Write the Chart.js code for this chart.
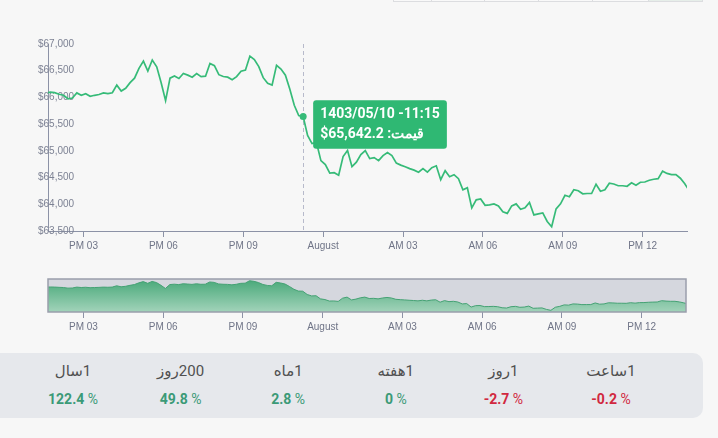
<!DOCTYPE html>
<html>
<head>
<meta charset="utf-8">
<script src="https://cdn.jsdelivr.net/npm/chart.js@4.4.1/dist/chart.umd.min.js"></script>
<style>
html, body { margin: 0; padding: 0; background: #f7f7f7; width: 718px; height: 438px; overflow: hidden; font-family: Roboto, "DejaVu Sans", sans-serif; }
#main { position: absolute; left: 0; top: 0; }
#nav { position: absolute; left: 0; top: 262px; }
.range { position: absolute; top: -30px; height: 32px; border: 1px solid #dcdde0; box-sizing: border-box; background: #f9f9f9; }
.range.on { background: #e6eee9; }
#stats { position: absolute; left: -12px; top: 353px; width: 715px; height: 65px; background: #e6e8ec; border-radius: 10px; }
.cell { position: absolute; width: 108px; text-align: center; }
.lbl { top: 360px; font-size: 15px; color: #505050; line-height: 22px; }
.val { top: 389px; font-size: 14px; font-weight: bold; line-height: 20px; }
.val span { font-weight: normal; }
</style>
</head>
<body>
<canvas id="main" width="718" height="258"></canvas>
<canvas id="nav" width="718" height="80"></canvas>
<div id="stats"></div>
<script>
// price every 10 minutes, starting 13:35 (minutes counted from midnight of 1403/05/10)
const startMinute = 815;
const stepMinutes = 10;
const prices = [
	66080, 66100, 66090, 66060, 66040, 65975, 65990, 66085, 66040, 66070,
	66022, 66040, 66055, 66084, 66070, 66087, 66230, 66120, 66172, 66276,
	66360, 66543, 66680, 66492, 66700, 66573, 66276, 65940, 66360, 66400,
	66355, 66449, 66417, 66379, 66445, 66389, 66398, 66637, 66595, 66426,
	66392, 66379, 66332, 66389, 66492, 66511, 66774, 66708, 66577, 66370,
	66266, 66230, 66600, 66530, 66417, 66153, 65852, 65660, 65642.2, 65288,
	65137, 65156, 64817, 64742, 64582, 64592, 64544, 64893, 65006, 64704,
	64789, 64930, 65005, 64855, 64874, 64817, 64911, 64968, 64911, 64770,
	64733, 64704, 64667, 64639, 64601, 64667, 64601, 64686, 64720, 64460,
	64629, 64516, 64554, 64479, 64272, 64309, 63933, 64083, 64100, 63980,
	63989, 64008, 63970, 63858, 63829, 63970, 64008, 63908, 63933, 64036,
	63801, 63820, 63839, 63679, 63580, 63914, 64008, 64168, 64140, 64272,
	64253, 64196, 64202, 64202, 64375, 64243, 64272, 64394, 64379, 64347,
	64347, 64337, 64403, 64356, 64413, 64417, 64450, 64469, 64479, 64620,
	64578, 64554, 64554, 64488, 64385, 64253
];
const xTickMinutes = [900, 1080, 1260, 1440, 1620, 1800, 1980, 2160];
const xTickLabels = ["PM 03", "PM 06", "PM 09", "August", "AM 03", "AM 06", "AM 09", "PM 12"];
const dayLabels = ["1403/05/10", "1403/05/11"];
const hoverIndex = 58;

const periods = ["1سال", "200روز", "1ماه", "1هفته", "1روز", "1ساعت"];
const changes = [122.4, 49.8, 2.8, 0, -2.7, -0.2];

const rangeEdges = [393, 431, 484, 538, 592, 648, 702];

const green = "#36bb78";
const axisColor = "#8c92a6";
const tickFont = {family: "Liberation Sans", size: 10};

const points = prices.map((p, i) => ({x: startMinute + i * stepMinutes, y: p}));

function pad(n) { return (n < 10 ? "0" : "") + n; }

function xScaleOptions() {
	return {
		type: "linear",
		min: 820,
		max: 2260,
		afterBuildTicks: s => { s.ticks = xTickMinutes.map(v => ({value: v})); },
		ticks: {
			autoSkip: false, maxRotation: 0, padding: 3, color: "#6f7487", font: tickFont,
			callback: v => xTickLabels[xTickMinutes.indexOf(v)]
		},
		grid: {display: true, drawOnChartArea: false, tickLength: 6, color: axisColor}
	};
}

Chart.Tooltip.positioners.shifted = function(elements) {
	if (!elements.length) return false;
	const el = elements[0].element;
	return {x: el.x, y: el.y + 8};
};

const crosshair = {
	id: "crosshair",
	beforeDatasetsDraw(chart) {
		const act = chart.getActiveElements();
		if (!act.length) return;
		const x = Math.round(act[0].element.x) + 0.5;
		const ctx = chart.ctx;
		ctx.save();
		ctx.setLineDash([4, 3]);
		ctx.strokeStyle = "#b7bacb";
		ctx.lineWidth = 1;
		ctx.beginPath();
		ctx.moveTo(x, chart.chartArea.top);
		ctx.lineTo(x, chart.chartArea.bottom);
		ctx.stroke();
		ctx.restore();
	}
};

let xMain = xScaleOptions();
xMain.border = {display: true, color: axisColor, width: 1};

const mainChart = new Chart(document.getElementById("main"), {
	type: "line",
	data: {
		datasets: [{
			data: points,
			borderColor: green,
			borderWidth: 1.7,
			pointRadius: 0,
			pointHoverRadius: 3.5,
			pointHoverBorderWidth: 0,
			pointHoverBackgroundColor: green,
			tension: 0
		}]
	},
	options: {
		responsive: false,
		animation: false,
		events: [],
		layout: {padding: {top: 44, left: 48, right: 31, bottom: 3}},
		scales: {
			x: xMain,
			y: {
				min: 63500,
				max: 67000,
				afterFit: s => { s.width = 0; },
				ticks: {
					stepSize: 500, mirror: true, padding: -10, color: "#7d8294", font: tickFont,
					callback: v => "$" + v.toLocaleString("en-US")
				},
				grid: {display: false, drawTicks: false, tickLength: 0},
				border: {display: true, color: axisColor, width: 1}
			}
		},
		plugins: {
			legend: {display: false},
			tooltip: {
				position: "shifted",
				rtl: true,
				textDirection: "rtl",
				xAlign: "left",
				yAlign: "center",
				caretSize: 0,
				caretPadding: 10,
				backgroundColor: "#2fb873",
				cornerRadius: 3,
				padding: {x: 7, y: 6},
				titleMarginBottom: 3,
				displayColors: false,
				titleColor: "#fff",
				bodyColor: "#fff",
				titleFont: {family: "Roboto", size: 14, weight: "bold"},
				bodyFont: {family: "Roboto", size: 14, weight: "bold"},
				callbacks: {
					title: items => {
						const t = items[0].parsed.x;
						const day = t >= 1440 ? 1 : 0;
						const m = t % 1440;
						const h = Math.floor(m / 60) % 12 || 12;
						return pad(h) + ":" + pad(m % 60) + "- " + dayLabels[day];
					},
					label: item => "قیمت: \u202A$" + item.parsed.y.toLocaleString("en-US", {minimumFractionDigits: 1, maximumFractionDigits: 1}) + "\u202C"
				}
			}
		}
	},
	plugins: [crosshair]
});

const active = [{datasetIndex: 0, index: hoverIndex}];
mainChart.setActiveElements(active);
mainChart.tooltip.setActiveElements(active, {x: 0, y: 0});
mainChart.update();

// navigator
const navBox = {
	id: "navBox",
	beforeDatasetsDraw(chart) {
		const a = chart.chartArea;
		chart.ctx.save();
		chart.ctx.fillStyle = "#d5d7de";
		chart.ctx.fillRect(a.left, a.top, a.right - a.left, a.bottom - a.top);
		chart.ctx.restore();
	},
	afterDatasetsDraw(chart) {
		const a = chart.chartArea;
		chart.ctx.save();
		chart.ctx.strokeStyle = "#9a9eac";
		chart.ctx.lineWidth = 1.5;
		chart.ctx.strokeRect(a.left, a.top, a.right - a.left, a.bottom - a.top);
		chart.ctx.restore();
	}
};

let xNav = xScaleOptions();
xNav.border = {display: false};

new Chart(document.getElementById("nav"), {
	type: "line",
	data: {
		datasets: [{
			data: points,
			borderColor: "#45a274",
			borderWidth: 1,
			pointRadius: 0,
			fill: "start",
			backgroundColor: c => {
				const area = c.chart.chartArea;
				if (!area) return null;
				const g = c.chart.ctx.createLinearGradient(0, area.top, 0, area.bottom);
				g.addColorStop(0, "#47a878");
				g.addColorStop(1, "#a2d3ba");
				return g;
			}
		}]
	},
	options: {
		responsive: false,
		animation: false,
		events: [],
		layout: {padding: {top: 17, left: 48, right: 32, bottom: 6}},
		scales: {
			x: xNav,
			y: {display: false, min: 63400, max: 66960}
		},
		plugins: {legend: {display: false}, tooltip: {enabled: false}}
	},
	plugins: [navBox]
});

// range buttons (only their lower edge is in view)
for (let i = 0; i < rangeEdges.length - 1; i++) {
	const d = document.createElement("div");
	d.className = "range" + (i === rangeEdges.length - 2 ? " on" : "");
	d.style.left = rangeEdges[i] + "px";
	d.style.width = (rangeEdges[i + 1] - rangeEdges[i] + 1) + "px";
	document.body.appendChild(d);
}

// change stats
for (let i = 0; i < periods.length; i++) {
	const cx = 73 + i * 107.6;
	const l = document.createElement("div");
	l.className = "cell lbl";
	l.dir = "rtl";
	l.style.left = (cx - 54) + "px";
	l.textContent = periods[i];
	document.body.appendChild(l);

	const v = document.createElement("div");
	v.className = "cell val";
	v.dir = "ltr";
	v.style.left = (cx - 54) + "px";
	v.style.color = changes[i] < 0 ? "#d1283f" : "#3b9a77";
	v.innerHTML = changes[i] + " <span>%</span>";
	document.body.appendChild(v);
}
</script>
</body>
</html>
